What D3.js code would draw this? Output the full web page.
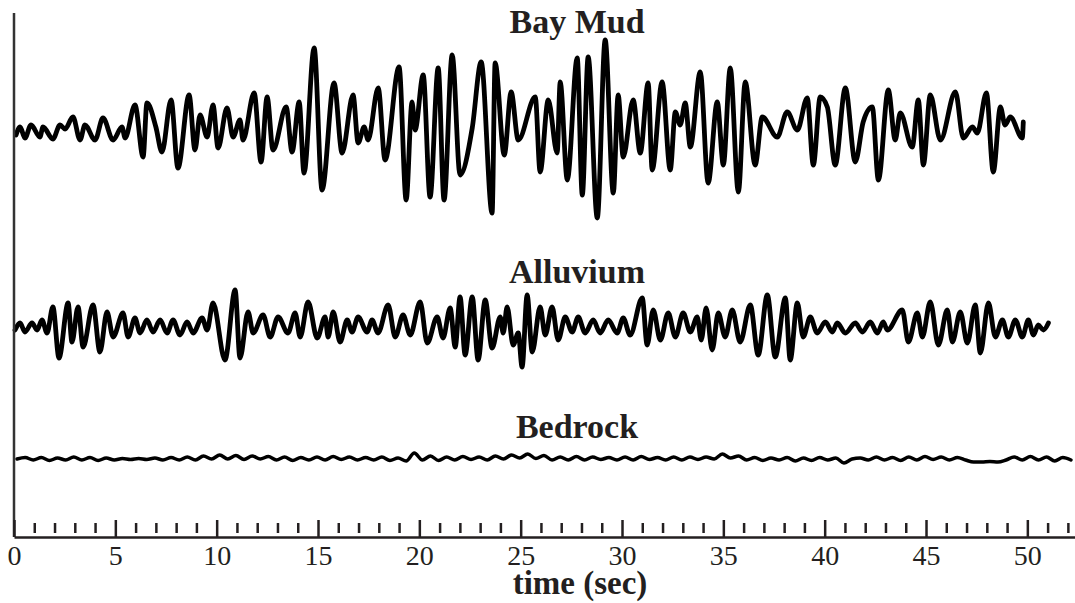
<!DOCTYPE html>
<html>
<head>
<meta charset="utf-8">
<script src="https://cdn.jsdelivr.net/npm/d3@7"></script>
<style>
  body { margin: 0; background: #fff; }
  text { font-family: "Liberation Serif", "Times New Roman", serif; fill: #231f20; }
</style>
</head>
<body>
<div id="seismo"></div>
<script>
// seismograms: times (sec) of peaks/troughs and relative amplitude (up = positive)
let bayMudT = [0.1,0.3,0.54,0.84,1.28,1.43,1.92,2.27,2.52,2.91,3.26,3.5,4.0,4.39,4.89,5.33,5.48,5.97,6.37,6.56,
  7.0,7.3,7.75,8.09,8.64,8.93,9.18,9.53,9.82,10.07,10.51,10.81,11.15,11.3,11.85,12.19,12.49,12.78,13.43,13.72,
  14.07,14.31,14.81,15.2,15.79,16.19,16.73,16.98,17.28,17.47,17.97,18.31,19.0,19.35,19.64,19.79,20.19,20.53,20.93,21.22,
  21.62,22.01,22.61,23.05,23.59,23.74,24.19,24.53,24.88,25.72,25.96,26.36,26.8,26.95,27.3,27.79,28.04,28.33,28.78,29.17,
  29.57,29.81,30.06,30.55,30.9,31.29,31.49,31.98,32.38,32.63,32.87,33.12,33.37,33.86,34.25,34.7,35.0,35.34,35.74,36.08,
  36.57,36.92,37.66,38.15,38.65,39.14,39.44,39.78,40.13,40.52,41.02,41.51,41.9,42.35,42.65,43.14,43.48,43.73,44.32,44.62,
  44.87,45.21,45.71,46.45,46.84,47.29,47.53,47.98,48.32,48.67,48.9,49.16,49.75,49.8];
let bayMudA = [-4,4,-7,6,-6,4,-8,6,2,14,-9,6,-9,13,-9,4,-7,26,-26,28,
  4,-21,31,-37,36,-19,16,-6,26,-17,23,-6,11,-9,38,-31,34,-19,24,-21,
  29,-42,83,-59,48,-22,36,-12,4,-9,43,-29,64,-69,29,1,56,-66,63,-69,
  76,-44,3,69,-82,68,-24,39,-9,34,-41,31,-22,49,-49,73,-64,74,-87,91,
  -62,36,-26,31,-22,48,-39,49,-39,19,6,28,-16,59,-52,29,-34,63,-61,49,
  -34,14,-6,19,1,33,-34,34,24,-34,43,-31,9,24,-49,41,-9,18,-16,31,
  -34,36,-9,39,-7,4,-2,38,-41,24,6,14,-7,9];

let alluviumT = [0.05,0.3,0.54,0.89,1.14,1.38,1.63,1.92,2.22,2.67,2.86,3.16,3.41,3.9,4.24,4.59,4.89,5.38,5.63,5.97,
  6.22,6.56,6.86,7.21,7.55,7.85,8.19,8.54,8.84,9.28,9.53,9.82,10.41,10.91,11.15,11.55,11.8,12.29,12.64,13.03,
  13.52,13.87,14.12,14.51,14.96,15.35,15.5,15.75,16.09,16.44,16.68,16.98,17.42,17.67,17.96,18.46,18.81,19.2,19.55,20.04,20.39,
  20.88,21.17,21.52,21.77,22.01,22.26,22.61,22.9,23.25,23.59,23.99,24.14,24.33,24.63,24.88,25.07,25.32,25.57,25.96,26.21,
  26.55,26.85,27.2,27.54,27.84,28.18,28.58,28.92,29.32,29.76,30.06,30.4,31.0,31.24,31.54,31.89,32.28,32.63,33.02,33.37,
  33.71,33.91,34.15,34.45,34.75,35.09,35.44,35.83,36.33,36.72,37.17,37.56,38.06,38.3,38.65,38.94,39.29,39.63,40.03,40.38,
  40.62,41.02,41.51,41.86,42.25,42.6,42.89,43.09,43.83,44.13,44.57,44.82,45.21,45.61,46.05,46.3,46.69,47.04,47.43,47.68,
  48.08,48.42,48.77,49.06,49.41,49.75,50.05,50.3,50.54,50.79,51.04];
let alluviumA = [-3,4,-5,4,-3,7,-6,20,-31,24,-15,20,-20,22,-25,15,-10,14,-10,9,
  -6,7,-5,7,-6,7,-8,5,-6,9,-3,24,-33,37,-31,15,-6,12,-10,10,
  -6,14,-10,25,-11,10,-10,15,-15,7,-5,10,-5,7,-6,22,-10,12,-8,25,-16,
  10,-11,19,-20,30,-28,30,-33,27,-21,10,-6,20,-18,-6,-40,32,-25,20,-8,
  20,-13,10,-5,10,-6,7,-6,7,-6,9,-8,29,-18,17,-13,14,-10,14,-5,
  10,-13,19,-23,14,-10,17,-15,22,-28,32,-30,29,-33,24,-10,10,-6,5,-5,
  4,-6,4,-5,5,-6,5,-3,17,-15,14,-10,25,-18,17,-15,15,-16,22,-26,
  24,-10,7,-10,7,-10,7,-8,2,-3,4];

// bedrock is much smaller, read as samples every 0.4 sec from t = 0.15
let bedrockStart = 0.15, bedrockStep = 0.4;
let bedrockA = [0,1.5,-1,1.5,-1.5,1,-1,2,-1,1.5,-1.5,1,-1,0.5,-0.5,0.5,-0.5,1,-1,1.5,
  -1,2,-1,3,0,4,0,3.5,-0.5,3,
  0,2.5,-1,2,-1.5,1.5,-1,2,-1,2.5,-0.5,2,-1,1.5,-1,2,-1.5,1,
  -2,6,-1,3,-1.5,
  2,-1,2.5,-0.5,2,-1,3,0,
  4,1,5,0.5,3.5,
  -1,2,-1,2.5,-1,2,-0.5,1.5,-1,2,-1,2.5,-0.5,1.5,-1,2,-1,2,-0.5,2,0,
  5,1,3,-1,
  1.5,-1.5,1,-1,1.5,-2,1,-1.5,1.5,-1,1,
  -4,0,1,-1,
  2,-1,1.5,-1.5,2,-1,2.5,-0.5,2,-1,1.5,-1,
  -3,-3,-2.5,-3,-1,
  2,-1,2.5,-1,2,-2,1.5,-1];

let traceNames = ["Bay Mud", "Alluvium", "Bedrock"];
let majorTicks = [0,5,10,15,20,25,30,35,40,45,50];
let minorTicks = d3.range(0, 53).filter(d => d % 5 !== 0);

let width = 1075, height = 603;
let serif = "'Liberation Serif', 'Times New Roman', serif";

let svg = d3.select("#seismo")
    .append("svg")
    .attr("width", width)
    .attr("height", height);

// x axis: seconds
let x = d3.scaleLinear()
    .domain([0, 52.45])
    .range([14, 1077]);

let axisY = 537;

// one amplitude scale per trace, centred on its own baseline
let baselines = [131, 327, 459];
let titleY = [33, 283, 438];

let traces = [
  bayMudT.map((t, i) => [t, bayMudA[i]]),
  alluviumT.map((t, i) => [t, alluviumA[i]]),
  bedrockA.map((a, i) => [bedrockStart + i * bedrockStep, a])
];

traces.forEach((pts, k) => {
  let y = d3.scaleLinear()
      .domain([-100, 100])
      .range([baselines[k] + 100, baselines[k] - 100]);

  let line = d3.line()
      .x(d => x(d[0]))
      .y(d => y(d[1]))
      .curve(d3.curveMonotoneX);

  svg.append("path")
      .datum(pts)
      .attr("fill", "none")
      .attr("stroke", "#000")
      .attr("stroke-width", k === 2 ? 3.5 : 4.8)
      .attr("stroke-linejoin", "round")
      .attr("stroke-linecap", "round")
      .attr("d", line);

  svg.append("text")
      .attr("x", 577)
      .attr("y", titleY[k])
      .attr("text-anchor", "middle")
      .style("font-family", serif)
      .style("font-size", "34px")
      .style("font-weight", "bold")
      .text(traceNames[k]);
});

// left vertical line
svg.append("line")
    .attr("x1", x(0)).attr("x2", x(0))
    .attr("y1", 13).attr("y2", axisY)
    .attr("stroke", "#333")
    .attr("stroke-width", 2.5);

// bottom axis with labels
let xAxis = svg.append("g")
    .attr("transform", "translate(0," + axisY + ")")
    .call(d3.axisBottom(x).tickValues(majorTicks).tickSize(0).tickPadding(8));
xAxis.attr("font-family", serif).attr("font-size", 28);
xAxis.select(".domain").attr("stroke", "#231f20").attr("stroke-width", 2.5);
xAxis.selectAll("text")
    .attr("fill", "#231f20")
    .style("font-family", serif)
    .style("font-size", "28px");

// major ticks go up from the axis
svg.append("g")
    .attr("transform", "translate(0," + axisY + ")")
    .call(d3.axisTop(x).tickValues(majorTicks).tickSize(17).tickFormat(""))
    .call(g => g.select(".domain").remove())
    .selectAll("line").attr("stroke", "#231f20").attr("stroke-width", 2.5);

// minor ticks float just above the axis
svg.append("g")
    .attr("transform", "translate(0," + (axisY - 4) + ")")
    .call(d3.axisTop(x).tickValues(minorTicks).tickSize(10).tickFormat(""))
    .call(g => g.select(".domain").remove())
    .selectAll("line").attr("stroke", "#231f20").attr("stroke-width", 2.5);

// axis title
svg.append("text")
    .attr("x", 580)
    .attr("y", 594)
    .attr("text-anchor", "middle")
    .style("font-family", serif)
    .style("font-size", "33px")
    .style("font-weight", "bold")
    .text("time (sec)");
</script>
</body>
</html>
